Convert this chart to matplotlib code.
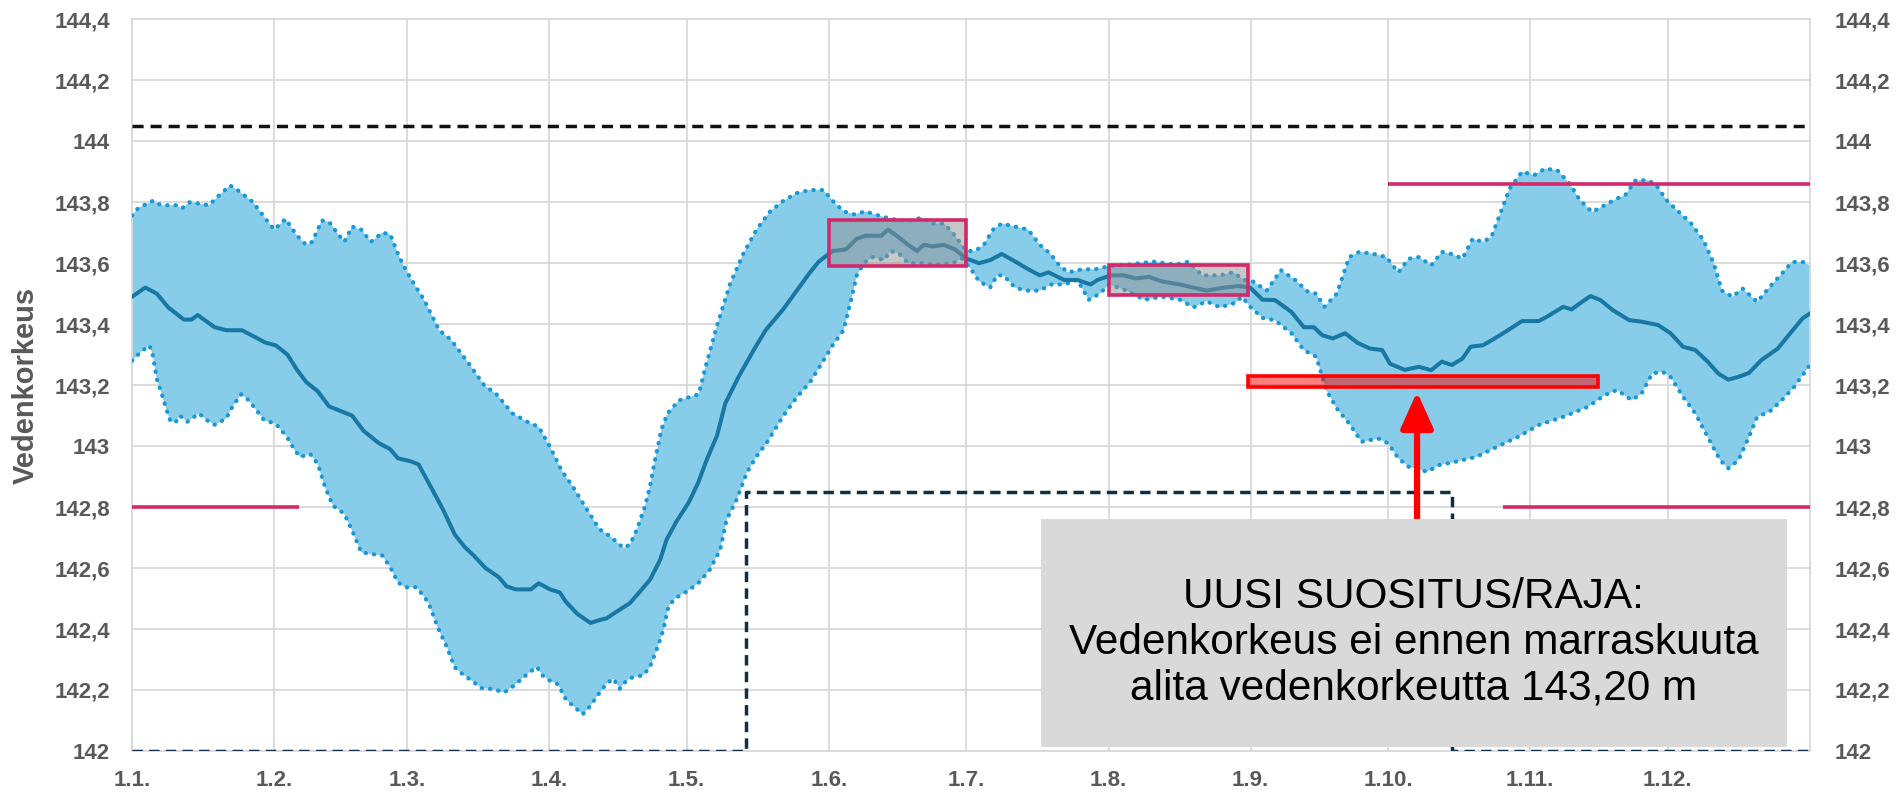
import numpy as np
import matplotlib.pyplot as plt
from matplotlib.patches import Rectangle

plt.rcParams['font.family'] = ['Liberation Sans', 'DejaVu Sans']

# paivat vuoden alusta (karkausvuosi, 0 = 1.1.)
kuukausi_alut = [0, 31, 60, 91, 121, 152, 182, 213, 244, 274, 305, 335]
kuukausi_nimet = ['1.1.', '1.2.', '1.3.', '1.4.', '1.5.', '1.6.', '1.7.', '1.8.',
                  '1.9.', '1.10.', '1.11.', '1.12.']
y_tikit = [142.0, 142.2, 142.4, 142.6, 142.8, 143.0, 143.2, 143.4, 143.6, 143.8, 144.0, 144.2, 144.4]
y_nimet = ['142', '142,2', '142,4', '142,6', '142,8', '143', '143,2', '143,4', '143,6',
           '143,8', '144', '144,2', '144,4']

# ylin havaittu vedenkorkeus
yla_pv = [0, 1.3, 4.6, 6.3, 9.6, 10.9, 12.6, 14.7, 16.8, 18.8, 21.4, 23, 26.4, 28.9, 31, 33.5,
          36, 38, 39.3, 41.4, 43, 44.7, 46.3, 48, 50, 52.1, 54.6, 56.3, 58.3, 60, 62, 63.7, 67,
          69.5, 73.5, 76.8, 79.5, 83, 86.2, 88.7, 91.2, 93.7, 96.2, 98.7, 101.2, 102.1, 104.3,
          107.2, 108.6, 110.1, 111.9, 113, 114.1, 115.5, 116.8, 119.3, 123.6, 125.1, 127.5,
          130.4, 133.3, 136.2, 139.2, 142.1, 145, 147.9, 150.8, 152.8, 155.2, 157.6, 160, 162,
          164.4, 167.4, 170.3, 172.2, 174.7, 177.1, 179, 181, 182, 183.9, 185.8, 187.8, 189.7,
          192.6, 195.5, 198, 200.4, 202.4, 204.3, 207.2, 210.1, 213.1, 217, 222.8, 227.6, 230.5,
          233.4, 237.3, 240.2, 242.6, 244.5, 247.5, 250.6, 253.8, 256.5, 258.3, 260.1, 262.8,
          265.5, 267.7, 270.9, 273.6, 276.2, 278.5, 280.7, 283.4, 285.7, 287.9, 290.2, 292.4,
          294.7, 296.5, 298.3, 300.5, 303.2, 305.9, 308.2, 310.9, 313.6, 315.8, 318.5, 321.2,
          323.9, 325.7, 328, 330.7, 332.5, 334.7, 337.4, 340.1, 342.8, 345, 346.8, 349.1, 351.3,
          354.5, 357.2, 359.9, 362.1, 364.4, 366]
yla = [143.756, 143.78, 143.805, 143.79, 143.79, 143.78, 143.80, 143.795, 143.79, 143.82, 143.855,
       143.84, 143.80, 143.75, 143.71, 143.745, 143.69, 143.66, 143.67, 143.74, 143.735, 143.70,
       143.67, 143.72, 143.71, 143.67, 143.70, 143.695, 143.62, 143.57, 143.52, 143.48, 143.38,
       143.35, 143.27, 143.2, 143.17, 143.107, 143.08, 143.063, 142.997, 142.92, 142.866, 142.805,
       142.745, 142.726, 142.704, 142.666, 142.677, 142.726, 142.803, 142.869, 142.957, 143.056,
       143.107, 143.15, 143.17, 143.26, 143.39, 143.53, 143.63, 143.71, 143.77, 143.805, 143.83,
       143.84, 143.84, 143.805, 143.77, 143.76, 143.77, 143.76, 143.75, 143.74, 143.74, 143.75,
       143.73, 143.73, 143.70, 143.66, 143.64, 143.64, 143.66, 143.71, 143.73, 143.72, 143.71,
       143.66, 143.63, 143.59, 143.57, 143.58, 143.58, 143.59, 143.595, 143.605, 143.595, 143.605,
       143.56, 143.56, 143.57, 143.545, 143.54, 143.51, 143.577, 143.544, 143.506, 143.50, 143.457,
       143.50, 143.62, 143.637, 143.63, 143.62, 143.57, 143.615, 143.62, 143.593, 143.637, 143.63,
       143.615, 143.68, 143.67, 143.686, 143.757, 143.845, 143.90, 143.889, 143.91, 143.905,
       143.861, 143.807, 143.768, 143.79, 143.812, 143.823, 143.872, 143.872, 143.856, 143.807,
       143.768, 143.73, 143.675, 143.6, 143.51, 143.49, 143.517, 143.473, 143.522, 143.566,
       143.604, 143.604, 143.593]

# alin havaittu vedenkorkeus
ala_pv = [0, 2, 3.8, 4.5, 5.4, 6.3, 7.5, 8.4, 9.6, 10.4, 12.1, 14.6, 16.3, 18, 20.5, 22.1, 23.8,
          25.5, 28.8, 31.3, 33.8, 35.5, 36.7, 38.8, 40.5, 42.1, 43.8, 46.3, 48, 50, 51.7, 54.6,
          56.3, 58, 59.6, 62.1, 64.6, 66.7, 68.7, 70.4, 72.1, 74.6, 76.2, 78.7, 81.2, 83.3, 86.2,
          88.3, 89.6, 91.2, 92.9, 94.6, 96.2, 98.3, 100, 101.2, 103.5, 105, 106.4, 107.9, 109.4,
          111.5, 113, 114.4, 115.9, 117, 118.5, 121, 123.5, 126, 128.3, 129.7, 131.9, 134.1,
          136.3, 138.5, 142.1, 145, 147.9, 150.8, 152.8, 155.2, 156.7, 158.1, 159.6, 161.6, 164,
          165.5, 167.4, 169.3, 172.2, 175.2, 179, 181, 183, 184.8, 187.2, 188.7, 190.1, 192.6,
          195, 198, 200.4, 203.3, 206.2, 208.7, 211.1, 213.1, 217, 220.8, 224.7, 228.6, 231.5,
          234.4, 237.3, 240.7, 242.1, 243.9, 246.6, 249.3, 252.9, 255.6, 258.3, 260.5, 262.8,
          265.5, 268.2, 271.8, 274, 276.2, 278.5, 282.5, 285.2, 288.8, 293.3, 297.8, 302.3,
          306.8, 312.2, 317.6, 321.2, 323.9, 327.1, 329.3, 331.6, 333.8, 335.6, 338.3, 341,
          343.7, 346.4, 348.2, 350.4, 352.7, 354.5, 357.2, 359.9, 362.6, 366]
ala = [143.28, 143.31, 143.33, 143.30, 143.22, 143.18, 143.12, 143.08, 143.08, 143.10, 143.08,
       143.107, 143.085, 143.07, 143.09, 143.134, 143.17, 143.15, 143.085, 143.074, 143.03,
       142.986, 142.964, 142.975, 142.942, 142.866, 142.805, 142.778, 142.723, 142.652, 142.647,
       142.641, 142.603, 142.553, 142.537, 142.537, 142.488, 142.405, 142.34, 142.274, 142.252,
       142.225, 142.206, 142.203, 142.192, 142.214, 142.252, 142.276, 142.247, 142.23, 142.219,
       142.17, 142.148, 142.12, 142.148, 142.175, 142.221, 142.237, 142.204, 142.232, 142.243,
       142.248, 142.276, 142.331, 142.397, 142.474, 142.501, 142.523, 142.55, 142.594, 142.66,
       142.759, 142.825, 142.913, 142.968, 143.012, 143.10, 143.16, 143.21, 143.28, 143.33,
       143.38, 143.47, 143.56, 143.6, 143.62, 143.61, 143.64, 143.63, 143.60, 143.60, 143.595,
       143.6, 143.615, 143.58, 143.54, 143.52, 143.56, 143.56, 143.52, 143.51, 143.51, 143.53,
       143.53, 143.545, 143.48, 143.50, 143.53, 143.51, 143.48, 143.49, 143.48, 143.455, 143.475,
       143.455, 143.47, 143.49, 143.457, 143.42, 143.413, 143.37, 143.315, 143.293, 143.184,
       143.123, 143.074, 143.014, 143.025, 143.009, 142.96, 142.932, 142.916, 142.938, 142.949,
       142.965, 142.998, 143.03, 143.069, 143.096, 143.129, 143.167, 143.184, 143.151, 143.173,
       143.238, 143.244, 143.227, 143.162, 143.107, 143.03, 142.954, 142.927, 142.954, 143.03,
       143.096, 143.113, 143.151, 143.195, 143.266]

# keskimaarainen vedenkorkeus
ka_pv = [0, 2.9, 5.4, 7.9, 11.3, 13, 14.3, 18, 20.6, 24, 26.5, 29, 31.4, 33.9, 36, 38, 40.5, 43,
         46.3, 48, 50.5, 53.8, 56.3, 58, 60.8, 62.5, 65.4, 67.9, 70.4, 72.5, 74.6, 77.1, 80, 81.7,
         83.7, 87, 88.7, 91.2, 93.3, 94.6, 97.1, 100, 102.1, 103.5, 105.7, 108.6, 110.8, 113,
         115.2, 116.6, 118.8, 121.4, 123.5, 125.4, 127.6, 129.4, 132.4, 135.8, 138.2, 142.1, 145,
         147.9, 149.8, 152.8, 155.7, 158.1, 160, 163.4, 164.9, 166.8, 169.3, 171.2, 172.7, 174.7,
         177.1, 179.5, 182, 184.8, 187.2, 189.7, 192.1, 195.5, 198, 199.9, 203.3, 206.2, 209.1,
         210.6, 213.5, 216.4, 218.8, 221.8, 224.7, 228.6, 231.5, 234.4, 238.3, 241.2, 243.9,
         246.6, 249.3, 252.9, 255.6, 257.8, 259.6, 261.9, 264.6, 267.3, 270, 272.7, 274.4, 277.6,
         280.7, 283.4, 285.7, 287.9, 290.2, 292, 294.7, 296.9, 299.6, 303.2, 306.8, 308.6, 312.2,
         314, 315.8, 318.1, 320.3, 323, 326.6, 329.3, 332.9, 335.6, 338.3, 341, 343.7, 346, 348.2,
         350.4, 352.7, 355.4, 359, 361.7, 364.4, 366]
ka = [143.49, 143.52, 143.50, 143.455, 143.415, 143.415, 143.43, 143.39, 143.38, 143.38, 143.36,
      143.34, 143.33, 143.30, 143.25, 143.21, 143.18, 143.13, 143.11, 143.10, 143.05, 143.01,
      142.99, 142.96, 142.95, 142.94, 142.86, 142.79, 142.71, 142.67, 142.64, 142.60, 142.57,
      142.54, 142.53, 142.53, 142.55, 142.53, 142.52, 142.49, 142.45, 142.42, 142.43, 142.435,
      142.457, 142.485, 142.523, 142.562, 142.627, 142.693, 142.754, 142.814, 142.88, 142.957,
      143.034, 143.14, 143.23, 143.32, 143.38, 143.45, 143.51, 143.57, 143.605, 143.64, 143.645,
      143.68, 143.69, 143.69, 143.71, 143.69, 143.66, 143.64, 143.66, 143.655, 143.66, 143.645,
      143.615, 143.60, 143.61, 143.63, 143.61, 143.58, 143.56, 143.57, 143.545, 143.545, 143.53,
      143.545, 143.56, 143.56, 143.55, 143.555, 143.54, 143.53, 143.52, 143.51, 143.52, 143.525,
      143.52, 143.48, 143.479, 143.44, 143.39, 143.39, 143.364, 143.353, 143.37, 143.339, 143.32,
      143.315, 143.27, 143.25, 143.26, 143.249, 143.277, 143.266, 143.287, 143.326, 143.331,
      143.35, 143.375, 143.41, 143.41, 143.424, 143.457, 143.448, 143.468, 143.492, 143.479,
      143.446, 143.413, 143.408, 143.397, 143.37, 143.326, 143.315, 143.277, 143.238, 143.218,
      143.227, 143.24, 143.282, 143.32, 143.37, 143.419, 143.435]

# saannostelyn rajat
tulvaraja = 144.05
saan_pv = [0, 134, 288, 366]
saan_taso = [142.0, 142.85, 142.0, 142.0]

# suositusviivat
suos_alku = [0, 299, 274]
suos_loppu = [36.5, 366, 366]
suos_taso = [142.8, 142.8, 143.86]

# kesan tavoitelaatikot
laat_alku = [152, 213]
laat_loppu = [182, 243.5]
laat_ala = [143.59, 143.495]
laat_yla = [143.742, 143.595]

# uusi raja
raja_alku = 243.5
raja_loppu = 319.7
raja_ala = 143.195
raja_yla = 143.229

harmaa = '#595959'
ruudukko = '#d9d9d9'

fig = plt.figure(figsize=(18.97, 7.93), dpi=100)
ax = fig.add_axes([0.0696, 0.053, 0.8845, 0.9227])

# vaihteluvali
ax.fill(np.r_[yla_pv, ala_pv[::-1]], np.r_[yla, ala[::-1]], color='#87cdea', lw=0, zorder=2)
for pv, arvo in [(yla_pv, yla), (ala_pv, ala)]:
    ax.plot(pv, arvo, color='#1a98d6', lw=3.0, ls=(0, (0.1, 1.9)), dash_capstyle='round', zorder=3)
ax.plot(ka_pv, ka, color='#1877a3', lw=2.9, zorder=4)

ax.axhline(tulvaraja, color='#111111', lw=2.5, ls=(0, (3.2, 2.0)), zorder=3)
ax.step(saan_pv, saan_taso, where='post', color='#0e2f44', lw=2.5, ls=(0, (3.0, 1.8)), zorder=3)

ax.hlines(suos_taso, suos_alku, suos_loppu, color='#d3286a', lw=2.6, zorder=3)

for a, l, al, yl in zip(laat_alku, laat_loppu, laat_ala, laat_yla):
    ax.add_patch(Rectangle((a, al), l - a, yl - al, facecolor='#919191', alpha=0.5,
                           edgecolor='none', zorder=5))
    ax.add_patch(Rectangle((a, al), l - a, yl - al, facecolor='none',
                           edgecolor='#d3286a', lw=2.6, zorder=6))

ax.add_patch(Rectangle((raja_alku, raja_ala), raja_loppu - raja_alku, raja_yla - raja_ala,
                       facecolor='#ff0000', alpha=0.5, edgecolor='none', zorder=5))
ax.add_patch(Rectangle((raja_alku, raja_ala), raja_loppu - raja_alku, raja_yla - raja_ala,
                       facecolor='none', edgecolor='#ff0000', lw=2.6, zorder=6))

# nuoli ja selitelaatikko
nuoli_x = 280.3
ax.annotate('', xy=(nuoli_x, 143.178), xytext=(nuoli_x, 142.65),
            arrowprops=dict(arrowstyle='-|>,head_length=1.0,head_width=0.45', color='#ff0000',
                            lw=4.5, mutation_scale=22, shrinkA=0, shrinkB=0), zorder=7)
ax.add_patch(Rectangle((198.3, 142.014), 360.9 - 198.3, 142.76 - 142.014,
                       facecolor='#d9d9d9', edgecolor='none', zorder=8))
ax.text(279.6, 142.355,
        'UUSI SUOSITUS/RAJA:\nVedenkorkeus ei ennen marraskuuta\nalita vedenkorkeutta 143,20 m',
        ha='center', va='center', fontsize=30.5, color='black', linespacing=1.2, zorder=9)

ax.set_xlim(0, 366)
ax.set_ylim(142, 144.4)
ax.set_xticks(kuukausi_alut)
ax.set_xticklabels(kuukausi_nimet)
ax.set_yticks(y_tikit)
ax.set_yticklabels(y_nimet)
ax.grid(True, color=ruudukko, lw=1.3, zorder=0)
ax.set_axisbelow(True)
for s in ax.spines.values():
    s.set_color(ruudukko)
    s.set_linewidth(1.3)
ax.tick_params(length=0, colors=harmaa, labelsize=16)
ax.tick_params(axis='y', pad=16)
ax.tick_params(axis='x', pad=14)
for t in ax.get_xticklabels() + ax.get_yticklabels():
    t.set_fontweight('bold')

oikea = ax.twinx()
oikea.set_ylim(ax.get_ylim())
oikea.set_yticks(y_tikit)
oikea.set_yticklabels(y_nimet)
oikea.tick_params(length=0, colors=harmaa, labelsize=16, pad=18)
for t in oikea.get_yticklabels():
    t.set_fontweight('bold')
for s in oikea.spines.values():
    s.set_visible(False)

ax.set_ylabel('Vedenkorkeus', fontsize=21, fontweight='bold', color=harmaa)
ax.yaxis.set_label_coords(-0.055, 0.5)

fig.savefig('out.png', dpi=100)
